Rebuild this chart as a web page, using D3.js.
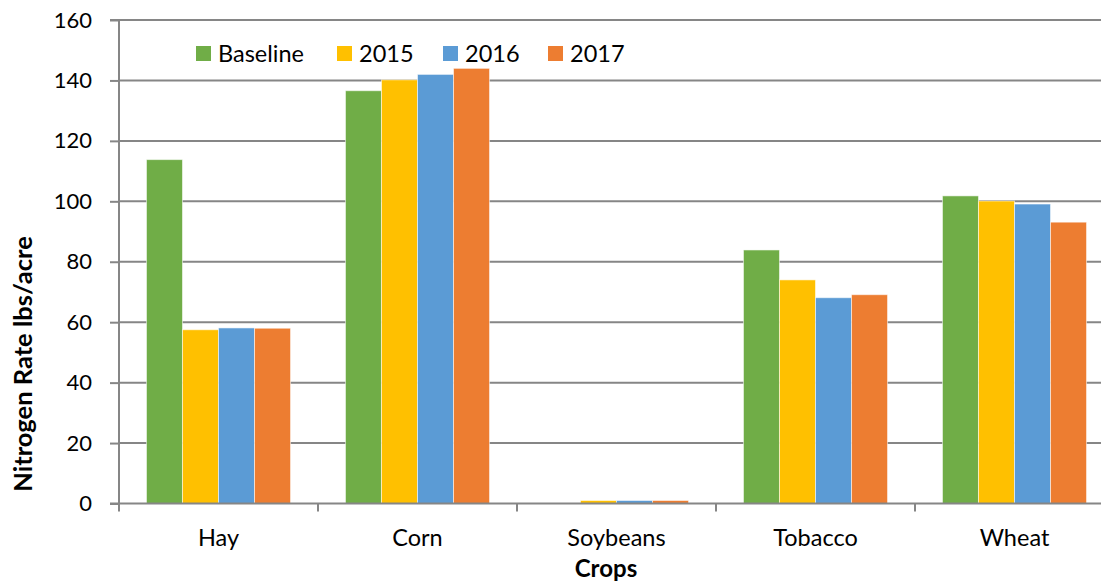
<!DOCTYPE html>
<html>
<head>
<meta charset="utf-8">
<script src="https://cdn.jsdelivr.net/npm/d3@7"></script>
<style>
  html, body { margin: 0; padding: 0; background: #fff; }
  svg { display: block; font-family: Lato, "Open Sans", sans-serif; }
</style>
</head>
<body>
<svg id="chart" width="1101" height="583"></svg>
<script>
const categories = ["Hay", "Corn", "Soybeans", "Tobacco", "Wheat"];
const seriesNames = ["Baseline", "2015", "2016", "2017"];
const baseline = [113.8, 136.6, 0, 83.9, 101.8];
const y2015 = [57.5, 140.2, 1, 74, 100.1];
const y2016 = [58.1, 142, 1, 68.1, 99.1];
const y2017 = [58, 144, 1, 69.1, 93.1];
const yTicks = [0, 20, 40, 60, 80, 100, 120, 140, 160];
const colors = ["#70AD47", "#FFC000", "#5B9BD5", "#ED7D31"];

const seriesValues = [baseline, y2015, y2016, y2017];

(function () {
const svg = d3.select("#chart");
const pLeft = 119, pRight = 1114, pTop = 20, pBottom = 503.5;

const x = d3.scaleBand().domain(categories).range([pLeft, pRight]).paddingInner(0).paddingOuter(0);
const bandPad = 0.138;
const xInner = d3.scaleBand().domain(seriesNames)
  .range([x.bandwidth() * bandPad, x.bandwidth() * (1 - bandPad)]).padding(0);
const y = d3.scaleLinear().domain([0, 160]).range([pBottom, pTop]);

// gridlines
svg.append("g").selectAll("line").data(yTicks.filter(d => d > 0)).join("line")
  .attr("x1", pLeft).attr("x2", 1101)
  .attr("y1", d => y(d)).attr("y2", d => y(d))
  .attr("stroke", "#868686").attr("stroke-width", 2);

// bars
const groups = svg.append("g").selectAll("g").data(categories).join("g")
  .attr("transform", d => `translate(${x(d)},0)`);
groups.selectAll("rect")
  .data((c, i) => seriesNames.map((s, j) => ({ s, v: seriesValues[j][i], c: colors[j] })))
  .join("rect")
  .attr("x", d => xInner(d.s))
  .attr("width", xInner.bandwidth())
  .attr("y", d => y(d.v))
  .attr("height", d => y(0) - y(d.v))
  .attr("fill", d => d.c)
  .attr("stroke", "rgba(255,255,255,0.55)")
  .attr("stroke-width", 1);

// y axis
const yAxis = d3.axisLeft(y).tickValues(yTicks).tickSize(9).tickPadding(18).tickFormat(d3.format("d"));
const gy = svg.append("g").attr("transform", `translate(${pLeft},0)`).call(yAxis);
gy.select(".domain").attr("stroke", "#868686").attr("stroke-width", 2).attr("d", `M-9,${pTop}H0V${pBottom}H-9`);
gy.selectAll(".tick line").attr("stroke", "#868686").attr("stroke-width", 2);
gy.selectAll(".tick text").attr("fill", "#000").style("font-size", "22px").style("font-family", "Lato, sans-serif");

// x axis
const boundaries = categories.map(c => x(c)).concat([pRight]);
svg.append("line").attr("x1", pLeft).attr("x2", 1101).attr("y1", pBottom).attr("y2", pBottom)
  .attr("stroke", "#868686").attr("stroke-width", 2);
svg.append("g").selectAll("line").data(boundaries).join("line")
  .attr("x1", d => d).attr("x2", d => d)
  .attr("y1", pBottom).attr("y2", pBottom + 8)
  .attr("stroke", "#868686").attr("stroke-width", 2);
svg.append("g").selectAll("text").data(categories).join("text")
  .attr("x", d => x(d) + x.bandwidth() / 2)
  .attr("y", 546)
  .attr("text-anchor", "middle")
  .style("font-size", "23.5px")
  .text(d => d);

// axis titles
svg.append("text").attr("x", 606).attr("y", 577).attr("text-anchor", "middle")
  .style("font-size", "24px").style("font-weight", "bold").text("Crops");
svg.append("text").attr("transform", "translate(32,364) rotate(-90)").attr("text-anchor", "middle")
  .style("font-size", "25.5px").style("font-weight", "bold").text("Nitrogen Rate lbs/acre");

// legend
const legendX = [196, 337, 443, 548];
const lg = svg.append("g").selectAll("g").data(seriesNames).join("g")
  .attr("transform", (d, i) => `translate(${legendX[i]},46)`);
lg.append("rect").attr("width", 15).attr("height", 15).attr("fill", (d, i) => colors[i]);
lg.append("text").attr("x", 22).attr("y", 15.5).style("font-size", "23.5px").text(d => d);
})();
</script>
</body>
</html>
